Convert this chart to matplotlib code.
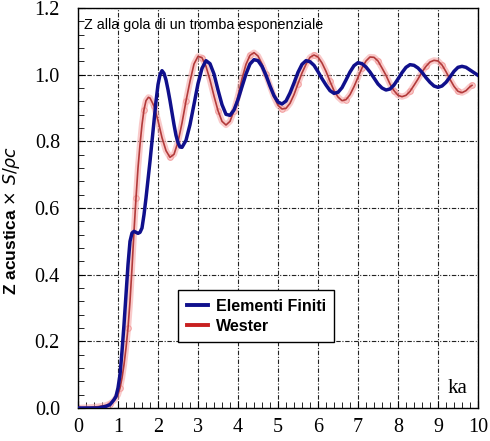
import numpy as np
import matplotlib
matplotlib.use('Agg')
import matplotlib.pyplot as plt
from matplotlib.ticker import MultipleLocator

# Elementi Finiti (blue)
ka_fem = [0.0, 0.5, 0.7, 0.8, 0.9, 0.95, 1.0, 1.05, 1.1, 1.15, 1.2, 1.25, 1.3, 1.35, 1.4,
          1.45, 1.5, 1.55, 1.6, 1.65, 1.7, 1.75, 1.8, 1.85, 1.9, 1.95, 2.0, 2.05, 2.1,
          2.15, 2.2, 2.25, 2.3, 2.35, 2.4, 2.45, 2.5, 2.55, 2.6, 2.7, 2.8, 2.9, 3.0, 3.1,
          3.2, 3.3, 3.4, 3.5, 3.6, 3.7, 3.8, 3.9, 4.0, 4.1, 4.2, 4.3, 4.4, 4.5, 4.6, 4.7,
          4.8, 4.9, 5.0, 5.1, 5.2, 5.3, 5.4, 5.5, 5.6, 5.7, 5.8, 5.9, 6.0, 6.1, 6.2, 6.3,
          6.4, 6.5, 6.6, 6.7, 6.8, 6.9, 7.0, 7.1, 7.2, 7.3, 7.4, 7.5, 7.6, 7.7, 7.8, 7.9,
          8.0, 8.1, 8.2, 8.3, 8.4, 8.5, 8.6, 8.7, 8.8, 8.9, 9.0, 9.1, 9.2, 9.3, 9.4, 9.5,
          9.6, 9.7, 9.8, 9.9, 10.0]
z_fem = [0.0, 0.0, 0.005, 0.01, 0.025, 0.035, 0.06, 0.1, 0.17, 0.25, 0.34, 0.43, 0.5,
         0.525, 0.53, 0.527, 0.524, 0.527, 0.54, 0.58, 0.63, 0.685, 0.74, 0.8, 0.86, 0.92,
         0.97, 1.0, 1.012, 1.004, 0.984, 0.955, 0.922, 0.886, 0.85, 0.818, 0.796, 0.783,
         0.782, 0.803, 0.85, 0.911, 0.973, 1.019, 1.042, 1.033, 1.002, 0.954, 0.91, 0.881,
         0.878, 0.894, 0.925, 0.964, 1.002, 1.032, 1.045, 1.042, 1.025, 0.998, 0.966,
         0.937, 0.918, 0.912, 0.921, 0.945, 0.975, 1.007, 1.031, 1.042, 1.039, 1.028,
         1.009, 0.988, 0.969, 0.952, 0.944, 0.947, 0.961, 0.984, 1.008, 1.027, 1.036,
         1.033, 1.023, 1.008, 0.99, 0.972, 0.96, 0.954, 0.957, 0.969, 0.987, 1.006, 1.022,
         1.03, 1.028, 1.02, 1.007, 0.991, 0.977, 0.966, 0.962, 0.966, 0.977, 0.993, 1.01,
         1.022, 1.025, 1.022, 1.014, 1.006, 0.998]

# Wester (red)
ka_wes = [0.0, 0.3, 0.5, 0.7, 0.8, 0.9, 0.95, 1.0, 1.05, 1.1, 1.15, 1.2, 1.25, 1.3, 1.35,
          1.4, 1.45, 1.5, 1.55, 1.6, 1.65, 1.7, 1.76, 1.8, 1.9, 2.0, 2.1, 2.2, 2.3, 2.4,
          2.5, 2.6, 2.7, 2.8, 2.9, 3.0, 3.1, 3.2, 3.3, 3.4, 3.5, 3.6, 3.7, 3.8, 3.9, 4.0,
          4.1, 4.2, 4.3, 4.4, 4.5, 4.6, 4.7, 4.8, 4.9, 5.0, 5.1, 5.2, 5.3, 5.4, 5.5, 5.6,
          5.7, 5.8, 5.9, 6.0, 6.1, 6.2, 6.3, 6.4, 6.5, 6.6, 6.7, 6.8, 6.9, 7.0, 7.1, 7.2,
          7.3, 7.4, 7.5, 7.6, 7.7, 7.8, 7.9, 8.0, 8.1, 8.2, 8.3, 8.4, 8.5, 8.6, 8.7, 8.8,
          8.9, 9.0, 9.1, 9.2, 9.3, 9.4, 9.5, 9.6, 9.7, 9.8, 9.85]
z_wes = [0.0, 0.002, 0.004, 0.008, 0.013, 0.022, 0.03, 0.04, 0.06, 0.09, 0.13, 0.18, 0.24,
         0.32, 0.42, 0.53, 0.63, 0.72, 0.79, 0.85, 0.895, 0.922, 0.932, 0.93, 0.906, 0.862,
         0.811, 0.772, 0.752, 0.761, 0.798, 0.855, 0.921, 0.98, 1.032, 1.055, 1.051, 1.025,
         0.984, 0.936, 0.892, 0.86, 0.849, 0.86, 0.892, 0.936, 0.988, 1.031, 1.058, 1.066,
         1.056, 1.032, 1.001, 0.966, 0.933, 0.908, 0.897, 0.899, 0.914, 0.94, 0.973, 1.005,
         1.031, 1.052, 1.059, 1.053, 1.035, 1.01, 0.98, 0.952, 0.933, 0.922, 0.925, 0.94,
         0.964, 0.992, 1.02, 1.041, 1.053, 1.052, 1.041, 1.02, 0.998, 0.972, 0.952, 0.938,
         0.934, 0.938, 0.95, 0.968, 0.987, 1.008, 1.025, 1.038, 1.043, 1.041, 1.029, 1.009,
         0.986, 0.965, 0.95, 0.946, 0.952, 0.964, 0.968]

fig = plt.figure(figsize=(4.9, 4.41), dpi=100)
ax = fig.add_axes([78/490, 1 - 408/441, 400/490, 400/441])

# pink halo + thin dark red line for Wester
ax.plot(ka_wes, z_wes, color='#f5a8a8', lw=4.5, alpha=0.6, solid_capstyle='round', zorder=2)
ax.plot(ka_wes[::4], z_wes[::4], 'o', ms=4, mfc='none', mec='#f3a0a0', mew=0.8, zorder=2)
ax.plot(ka_wes, z_wes, color='#b23a3a', lw=1.2, zorder=3)
ax.plot(ka_fem, z_fem, color='#10108c', lw=2.5, zorder=4)

# legend handles
ax.plot([], [], color='#10108c', lw=2.8, label='Elementi Finiti')
ax.plot([], [], color='#c82020', lw=2.8, label='Wester')
h, l = ax.get_legend_handles_labels()
leg = ax.legend(h[-2:], l[-2:], loc='upper left', bbox_to_anchor=(0.23, 0.315),
                handlelength=1.3, handletextpad=0.5, borderpad=0.55, labelspacing=0.3,
                fancybox=False, framealpha=1, edgecolor='black',
                prop={'family': 'Liberation Sans', 'weight': 'bold', 'size': 11.5})
leg.get_frame().set_linewidth(1.0)

ax.set_xlim(0, 10)
ax.set_ylim(0, 1.2)
ax.xaxis.set_major_locator(MultipleLocator(1))
ax.xaxis.set_minor_locator(MultipleLocator(0.2))
ax.yaxis.set_minor_locator(MultipleLocator(0.04))
ax.set_yticks(np.arange(0, 1.21, 0.2))
ax.set_yticklabels(['0.0', '0.2', '0.4', '0.6', '0.8', '1.0', '1.2'])
ax.tick_params(which='both', direction='in', top=False, right=False)
ax.tick_params(which='major', length=5, labelsize=14.5)
ax.tick_params(axis='y', which='major', pad=13)
ax.tick_params(axis='x', which='major', pad=7)
ax.tick_params(which='minor', length=4)
for lab in ax.get_xticklabels() + ax.get_yticklabels():
    lab.set_fontfamily('Liberation Serif')

ax.grid(True, which='major', color='#222222', lw=0.8, linestyle=(0, (4, 1.5, 1, 1.5)))
for s in ax.spines.values():
    s.set_linewidth(1.0)

ax.set_ylabel(r'Z acustica $\times\ S/\rho c$', fontsize=12.5, fontweight='bold',
              family='Liberation Sans', labelpad=4)
ax.yaxis.set_label_coords(-0.14, 0.47)
ax.text(0.015, 0.975, 'Z alla gola di un tromba esponenziale', transform=ax.transAxes,
        ha='left', va='top', fontsize=10.3, family='Liberation Sans')
ax.text(0.948, 0.025, 'ka', transform=ax.transAxes, ha='center', va='bottom',
        fontsize=15, family='Liberation Serif')

fig.savefig('out.png', dpi=100)
